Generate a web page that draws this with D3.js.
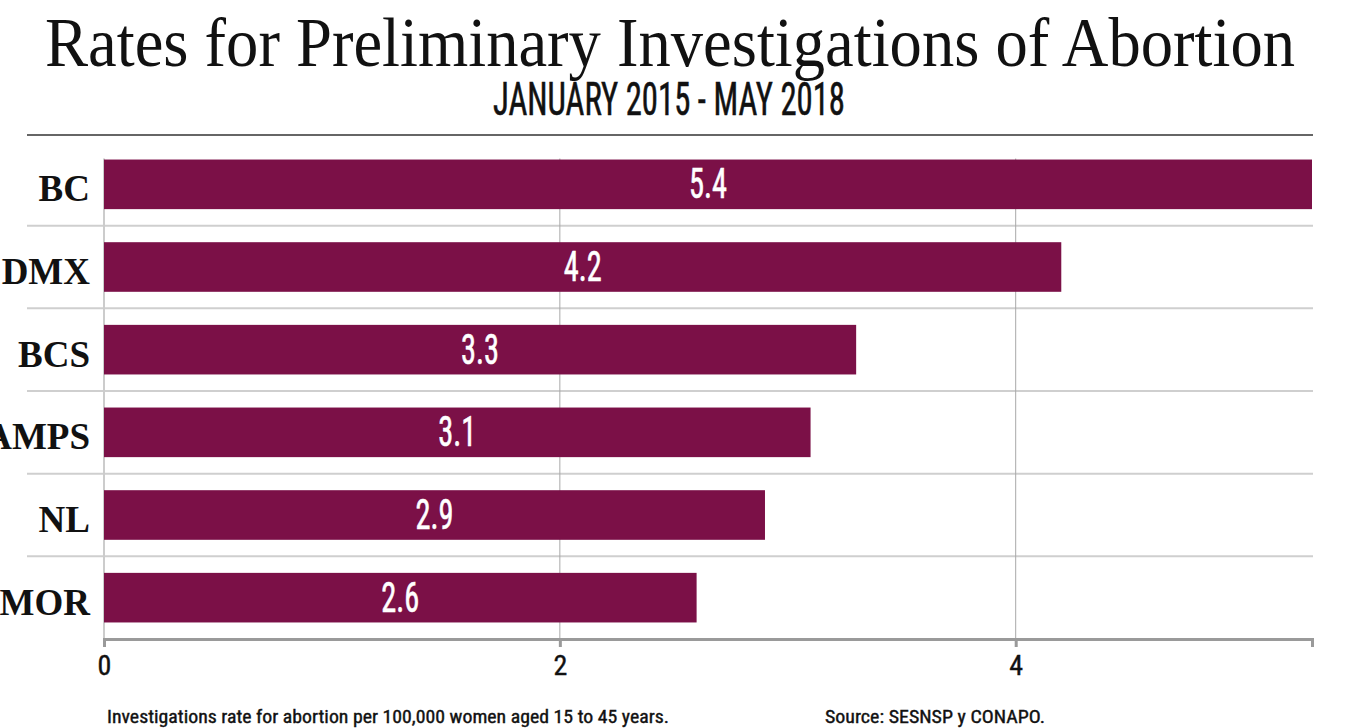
<!DOCTYPE html>
<html>
<head>
<meta charset="utf-8">
<script src="https://cdn.jsdelivr.net/npm/d3@7"></script>
<style>
  html, body { margin: 0; padding: 0; background: #fff; }
  svg { display: block; }
</style>
</head>
<body>
<svg id="chart" width="1353" height="728"></svg>
<script>
// Preliminary investigations of abortion per 100,000 women aged 15-45, by state
const states = ["BC", "CDMX", "BCS", "TAMPS", "NL", "MOR"];
const rates = [5.4, 4.2, 3.3, 3.1, 2.9, 2.6];
const tickValues = [0, 2, 4];

const titleText = "Rates for Preliminary Investigations of Abortion";
const subtitleText = "JANUARY 2015 - MAY 2018";
const noteText = "Investigations rate for abortion per 100,000 women aged 15 to 45 years.";
const sourceText = "Source: SESNSP y CONAPO.";

const svg = d3.select("#chart");
const narrow = "'Liberation Sans Narrow', 'Roboto Condensed', 'DejaVu Sans Condensed', Roboto, sans-serif";
const barColor = "#7b1047";

const x = d3.scaleLinear().domain([0, 5.3]).range([104, 1312]).clamp(true);
const y = d3.scaleBand().domain(states).range([143, 639])
  .paddingInner(0.4).paddingOuter(0.2);

// Title block
svg.append("text")
  .attr("x", 45).attr("y", 66)
  .attr("textLength", 1250).attr("lengthAdjust", "spacingAndGlyphs")
  .style("font-family", "'Liberation Serif', 'DejaVu Serif', serif")
  .style("font-size", "70px")
  .style("fill", "#111")
  .text(titleText);

svg.append("text")
  .attr("x", 493).attr("y", 115)
  .attr("textLength", 352).attr("lengthAdjust", "spacingAndGlyphs")
  .style("font-family", narrow)
  .style("font-size", "47px")
  .style("fill", "#111")
  .style("stroke", "#111").style("stroke-width", 0.6)
  .text(subtitleText);

svg.append("line")
  .attr("x1", 27).attr("x2", 1313).attr("y1", 135).attr("y2", 135)
  .attr("stroke", "#666").attr("stroke-width", 2);

// Horizontal separators between categories
const gap = y.step() - y.bandwidth();
svg.append("g").selectAll("line")
  .data(states.slice(0, -1))
  .join("line")
  .attr("x1", 27).attr("x2", 1313)
  .attr("y1", d => y(d) + y.bandwidth() + gap / 2)
  .attr("y2", d => y(d) + y.bandwidth() + gap / 2)
  .attr("stroke", "#cfcfcf").attr("stroke-width", 2);

// Vertical gridlines
svg.append("g").selectAll("line")
  .data(tickValues)
  .join("line")
  .attr("x1", d => x(d)).attr("x2", d => x(d))
  .attr("y1", y(states[0]) - 1).attr("y2", 639)
  .attr("stroke", d => d === 0 ? "#cccccc" : "#a8a8a8")
  .attr("stroke-width", d => d === 0 ? 2 : 1);

// Bars
svg.append("g").selectAll("rect")
  .data(rates)
  .join("rect")
  .attr("x", x(0))
  .attr("y", (d, i) => y(states[i]))
  .attr("width", d => x(d) - x(0))
  .attr("height", y.bandwidth())
  .attr("fill", barColor);

// Value labels centred in each bar
svg.append("g").selectAll("text")
  .data(rates)
  .join("text")
  .attr("x", d => (x(0) + x(d)) / 2)
  .attr("y", (d, i) => y(states[i]) + y.bandwidth() / 2 + 14)
  .attr("text-anchor", "middle")
  .attr("textLength", 38).attr("lengthAdjust", "spacingAndGlyphs")
  .style("font-family", narrow)
  .style("font-size", "42px")
  .style("fill", "#fff")
  .style("stroke", "#fff").style("stroke-width", 0.6)
  .text(d => d.toFixed(1));

// Category labels
svg.append("g").selectAll("text")
  .data(states)
  .join("text")
  .attr("x", 90)
  .attr("y", d => y(d) + y.bandwidth() / 2 + 17)
  .attr("text-anchor", "end")
  .style("font-family", "'Liberation Serif', 'Times New Roman', serif")
  .style("font-weight", "bold")
  .style("font-size", "37px")
  .style("fill", "#111")
  .text(d => d);

// Bottom axis
const axis = d3.axisBottom(x)
  .tickValues(tickValues)
  .tickFormat(d3.format("d"))
  .tickSizeInner(8)
  .tickSizeOuter(8)
  .tickPadding(8);

const gx = svg.append("g").attr("transform", "translate(0,639)").call(axis);
gx.select(".domain").attr("stroke", "#9a9a9a").attr("stroke-width", 3);
gx.selectAll(".tick line").attr("stroke", "#9a9a9a").attr("stroke-width", 3);
gx.selectAll(".tick text")
  .attr("y", 36).attr("dy", null)
  .style("font-family", narrow)
  .style("font-size", "28px")
  .style("fill", "#111")
  .style("stroke", "#111").style("stroke-width", 0.4);

// Footnotes
svg.append("text")
  .attr("x", 107).attr("y", 723)
  .attr("textLength", 562).attr("lengthAdjust", "spacingAndGlyphs")
  .style("font-family", narrow)
  .style("font-size", "19px")
  .style("fill", "#111")
  .style("stroke", "#111").style("stroke-width", 0.4)
  .text(noteText);

svg.append("text")
  .attr("x", 825).attr("y", 723)
  .attr("textLength", 220).attr("lengthAdjust", "spacingAndGlyphs")
  .style("font-family", narrow)
  .style("font-size", "19px")
  .style("fill", "#111")
  .style("stroke", "#111").style("stroke-width", 0.4)
  .text(sourceText);
</script>
</body>
</html>
